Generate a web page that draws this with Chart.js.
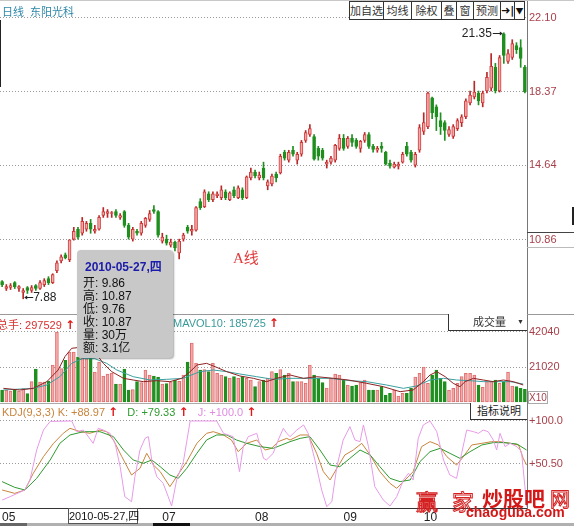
<!DOCTYPE html>
<html><head><meta charset="utf-8">
<script src="https://cdn.jsdelivr.net/npm/chart.js@4/dist/chart.umd.min.js"></script>
<style>
body{margin:0;width:574px;height:526px;overflow:hidden;background:#fff;position:relative;font-family:"Liberation Sans",Arial,"Noto Sans CJK SC",sans-serif}
canvas{position:absolute;left:0}
.a{position:absolute;white-space:nowrap}
.cjk{font-family:"Liberation Sans","Noto Sans CJK SC",sans-serif}
.btn{position:absolute;top:1px;height:17px;border:1px solid #333;background:#fff;font:11px "Noto Sans CJK SC",sans-serif;color:#333;text-align:center;line-height:17px;box-sizing:content-box}
.arr{color:#e01818;font:bold 12px "DejaVu Sans",sans-serif}
.ln{position:absolute}
</style></head><body>
<canvas id="cPrice" width="574" height="314" style="top:0"></canvas>
<canvas id="cVol" width="574" height="89" style="top:314px"></canvas>
<canvas id="cKdj" width="574" height="123" style="top:403px"></canvas>

<!-- separators -->
<div class="ln" style="left:0;top:0;width:574px;height:1px;background:#c8c8c8"></div>
<div class="ln" style="left:0;top:314px;width:574px;height:1px;background:#999"></div>
<div class="ln" style="left:0;top:403px;width:527px;height:1px;background:#aaa"></div>
<div class="ln" style="left:0;top:20px;width:1px;height:67px;background:#222"></div>
<div class="ln" style="left:527px;top:232px;width:47px;height:1px;background:#444"></div>
<div class="ln" style="left:527px;top:247px;width:47px;height:1px;background:#bbb"></div>
<div class="ln" style="left:572px;top:207px;width:2px;height:18px;background:#222"></div>
<div class="ln" style="left:0;top:523px;width:574px;height:3px;background:#b0b0b0"></div>
<div class="ln" style="left:0;top:523px;width:27px;height:3px;background:#666"></div>
<div class="ln" style="left:153px;top:523px;width:37px;height:3px;background:#111"></div>

<!-- header -->
<div class="a cjk" style="left:2px;top:3px;font-size:11px;color:#2e86a8">日线&nbsp;&nbsp;东阳光科</div>
<div class="btn" style="left:349px;width:33px">加自选</div>
<div class="btn" style="left:383px;width:27px">均线</div>
<div class="btn" style="left:411px;width:29px">除权</div>
<div class="btn" style="left:441px;width:14px">叠</div>
<div class="btn" style="left:456px;width:16px">窗</div>
<div class="btn" style="left:473px;width:26px">预测</div>
<div class="btn" style="left:500px;width:13px;font-weight:bold;color:#111;font-family:'DejaVu Sans'">➜|</div>
<div class="btn" style="left:514px;width:9px;font-size:8px;color:#111">▼</div>

<div class="a" style="left:233px;top:246px;font-size:15px;color:#e03c3c"><span style="font-family:'Liberation Serif'">A</span><span style="font-family:'Noto Sans CJK SC'">线</span></div>

<!-- volume header -->
<div class="a cjk" style="left:-3px;top:316px;font-size:11px;color:#d83030">总手: 297529 <span class="arr">↑</span></div>
<div class="a" style="left:173px;top:316px;font-size:11px;color:#3a9a9a">MAVOL10: 185725 <span class="arr">↑</span></div>
<div class="a cjk" style="left:448px;top:314px;width:78px;height:16px;border-left:1px solid #333;border-bottom:1px solid #333;background:#fff;font-size:11px;color:#333;line-height:16px"><span style="position:absolute;left:24px">成交量</span><span style="position:absolute;left:68px;font-size:7px">▼</span></div>
<div class="a" style="left:528px;top:391px;width:18px;height:11px;border:1px solid #aaa;font-size:10px;color:#a8404a;line-height:11px;text-align:center">X10</div>

<!-- KDJ header -->
<div class="a" style="left:2px;top:405px;font-size:11px"><span style="color:#c8843c">KDJ(9,3,3) K: +88.97</span> <span class="arr">↑</span>&nbsp;&nbsp; <span style="color:#2e9a2e">D: +79.33</span> <span class="arr">↑</span>&nbsp;&nbsp; <span style="color:#e08ae0">J: +100.0</span> <span class="arr">↑</span></div>
<div class="a cjk" style="left:470px;top:403px;width:56px;height:16px;border-left:1px solid #333;border-bottom:1px solid #333;background:#fff;font-size:11px;color:#222;line-height:16px;text-align:center">指标说明</div>

<!-- crosshair date on axis -->
<div class="a cjk" style="left:68px;top:508px;width:68px;height:14px;border:1px solid #555;background:#fff;font-size:11px;color:#111;line-height:14px;text-align:center">2010-05-27,四</div>

<!-- tooltip -->
<div class="a" style="left:77px;top:250px;width:96px;height:108px;background:#c8c8c8;border-radius:4px;box-shadow:1px 1px 2px rgba(0,0,0,0.35)"></div>
<div class="a cjk" style="left:85px;top:257px;font-size:12px;font-weight:bold;color:#1c1caa">2010-05-27,四</div>
<div class="a cjk" style="left:83px;top:277px;font-size:12px;line-height:13px;color:#111">开: 9.86<br>高: 10.87<br>低: 9.76<br>收: 10.87<br>量: 30万<br>额: 3.1亿</div>

<!-- watermark -->
<div class="a" style="left:416px;top:484px;font:22px 'Noto Sans CJK SC';color:transparent;-webkit-text-stroke:1px #d42020">赢</div>
<div class="a" style="left:452px;top:484px;font:22px 'Noto Sans CJK SC';color:transparent;-webkit-text-stroke:1px #d42020">家</div>
<div class="a" style="left:482px;top:482px;font:bold 21px 'Noto Sans CJK SC';color:#d41818">炒股吧</div>
<div class="a" style="left:550px;top:484px;font:20px 'Noto Sans CJK SC';color:transparent;-webkit-text-stroke:1px #d42020">网</div>
<div class="a" style="left:466px;top:504px;font:bold 14px 'Liberation Sans';color:#d41818">chaoguba.com</div>

<script>
// ---------------- DATA ----------------
const open  = [8.75,8.4,8.45,8.7,8.4,8.2,8.45,8.3,8.55,8.4,8.6,8.9,8.7,9.3,9.8,10.1,9.86,10.9,11.4,11.2,11.4,11.7,11.3,11.4,12.1,12.2,12.2,12.3,12.0,12.3,11.6,10.9,11.3,11.2,11.6,11.9,12.4,12.3,10.8,10.9,10.6,10.75,10.2,10.9,11.5,11.3,11.35,12.8,12.55,13.2,12.9,13.1,13.0,13.3,12.9,13.4,13.0,13.4,13.0,14.0,14.3,14.0,14.5,13.6,13.7,14.2,14.25,15.3,14.9,15.4,14.9,15.2,15.9,16.2,16.1,15.5,15.4,14.7,14.8,14.9,15.5,16.0,15.6,16.0,15.9,15.5,15.9,16.2,15.6,15.4,15.6,15.3,14.75,14.55,14.6,14.8,15.6,15.3,14.65,15.4,16.35,16.6,18.05,17.6,16.9,16.8,16.2,16.1,16.5,16.8,17.1,17.8,18.1,18.3,17.8,18.4,18.55,19.6,18.4,21.3,19.9,20.1,20.7,20.6,19.6];
const high  = [8.8,8.6,8.65,8.75,8.55,8.4,8.5,8.55,8.6,8.8,8.9,9.0,9.15,9.8,10.1,10.2,10.87,11.5,11.5,12.0,11.8,11.9,11.6,12.1,12.5,12.4,12.3,12.4,12.2,12.35,11.7,11.5,11.4,11.8,12.0,12.35,12.6,12.35,11.2,11.1,10.9,10.8,10.9,11.2,11.6,11.6,12.55,12.95,13.4,13.3,13.3,13.3,13.6,13.4,13.3,13.55,13.6,13.5,14.1,14.5,14.4,14.3,14.8,13.9,14.2,14.3,15.2,15.4,15.4,15.6,15.3,15.9,16.4,16.7,16.2,15.6,15.5,14.9,15.1,15.7,16.2,16.2,16.1,16.2,16.0,15.9,16.3,16.3,15.7,15.6,15.8,15.35,14.9,14.8,14.8,15.3,15.8,15.4,15.3,16.7,17.3,18.35,18.1,17.7,17.3,16.9,16.6,16.7,17.0,17.2,18.0,18.4,18.9,18.4,18.4,19.35,20.3,19.8,20.2,21.35,20.5,21.0,20.85,21.0,19.7];
const low   = [8.5,8.3,8.35,8.4,8.25,7.88,8.15,8.2,8.3,8.35,8.5,8.6,8.65,9.2,9.7,9.9,9.76,10.85,10.9,11.1,11.3,11.2,11.2,11.35,12.0,12.0,12.0,12.0,11.9,11.5,10.9,10.8,11.1,11.1,11.5,11.8,12.2,11.0,10.7,10.6,10.5,10.3,9.9,10.8,11.2,11.1,11.3,12.4,12.5,12.8,12.8,13.0,12.9,12.9,12.85,13.0,12.95,12.9,12.95,13.9,14.0,13.9,13.9,13.4,13.6,13.8,14.2,14.9,14.8,15.1,14.7,15.1,15.8,16.1,14.9,14.9,14.9,14.5,14.7,14.8,15.4,15.4,15.5,15.6,15.5,15.3,15.8,15.5,15.3,15.3,15.3,14.65,14.5,14.5,14.45,14.75,15.1,14.8,14.55,15.3,16.2,16.5,17.0,16.4,16.2,15.9,16.1,16.0,16.4,16.6,17.0,17.7,18.0,17.7,17.6,18.3,18.4,18.3,18.35,19.8,19.8,20.0,20.3,19.6,18.3];
const close = [8.6,8.5,8.55,8.5,8.5,8.3,8.3,8.45,8.4,8.7,8.8,8.7,9.1,9.7,10.0,9.95,10.87,11.3,11.0,11.8,11.7,11.4,11.4,12.0,12.3,12.3,12.25,12.1,12.1,11.6,11.0,11.4,11.2,11.7,11.95,12.2,12.3,11.1,11.0,10.7,10.75,10.45,10.8,11.1,11.3,11.4,12.5,12.5,13.3,12.9,13.2,13.2,13.4,13.0,13.25,13.1,13.5,13.0,14.05,14.3,14.1,14.15,14.0,13.8,14.1,14.0,15.1,15.0,15.3,15.2,15.2,15.8,16.3,16.5,14.95,15.1,15.0,14.8,15.0,15.65,16.0,15.5,16.0,15.8,15.6,15.85,16.2,15.6,15.45,15.5,15.5,14.7,14.6,14.7,14.7,15.2,15.2,14.9,15.2,16.55,16.8,18.3,17.3,17.1,16.6,16.4,16.45,16.6,16.9,17.1,17.9,18.2,18.35,17.9,18.3,19.1,19.65,18.4,20.1,20.2,20.3,20.8,20.5,20.05,18.37];
// volume, in units of 10 hands (axis "X10")
const volume = [7200,7000,6500,7200,6500,8000,5000,12200,19800,12000,12000,12600,22200,42000,20000,25000,30000,30000,27000,33000,26000,28000,18000,24000,15600,16800,17400,10800,10800,19800,7200,7400,12200,11600,19200,16200,15600,15000,10800,11000,12000,13200,12400,16200,24000,35400,23400,19200,19500,18200,23200,17200,16200,15200,14400,15200,14200,15200,14200,13200,9200,12200,13200,14200,18200,17200,19400,16200,17200,12200,12200,12200,11200,22200,16200,14200,11600,8400,14200,16800,16200,13200,10200,9600,10200,11600,13200,7200,7200,7200,9200,4200,5200,7200,3600,5200,5200,8200,15000,17200,21000,11200,16200,19200,14200,12200,7200,8200,11200,15200,17200,17200,16200,10200,8800,12200,12200,13200,11200,12200,18000,9600,9200,8200,7600];
// volume moving averages: [candle index, value]
const mavol5  = [[0.3,8210],[4.2,7210],[7.4,8210],[10.6,12210],[13.3,19220],[14.9,27230],[16.5,32250],[19,33000],[22,30000],[24,23220],[26,18220],[28.8,14210],[31.1,13210],[33.5,12210],[36.7,12810],[39.8,12210],[42.6,14210],[44.6,18220],[46.2,22220],[48.5,23220],[50.9,20820],[53.3,18220],[56.4,15620],[59.6,14210],[62.7,12210],[65.1,14210],[68.3,16220],[71.5,14210],[74.6,15210],[78.6,14210],[82.1,13210],[86.5,11210],[90.4,9210],[94.4,6200],[97.5,7210],[99.9,12210],[101.5,16220],[103.1,18220],[105.1,15210],[107,11210],[108.6,9210],[109.8,12210],[111.8,14210],[114.1,13210],[116.5,12210],[118.9,13210],[121.3,12210],[123.6,10210]];
const mavol10 = [[0.3,7210],[7.4,8210],[10.6,10210],[13.7,15210],[16.5,23220],[19,26000],[22,26000],[24.8,23220],[27.2,19220],[31.1,15210],[35.1,13210],[39,13610],[42.9,14210],[46.9,18220],[50.1,19220],[53.3,18220],[56.4,16820],[60.4,15210],[64.3,13610],[68.3,14210],[73,14210],[77.8,14210],[82.5,12810],[86.5,12210],[91.2,10210],[95.2,8210],[98.3,9610],[101.5,13210],[104.7,14210],[107.8,13210],[111,12810],[114.1,12210],[117.3,12210],[120.5,12210],[123.6,10810]];
// KDJ(9,3,3): [candle index, value]
const kLine = [[0,20.6],[3,16.7],[5.4,20.6],[7.4,39.8],[9.8,58.9],[12.2,74.3],[14.5,85.8],[16.1,91.6],[18.5,87.7],[20.8,85.8],[23.2,89.6],[24.8,87.7],[26.4,78.1],[28.4,58.9],[30.7,37.8],[32.7,45.5],[34.3,62.8],[35.9,49.3],[37.5,41.7],[39.8,24.4],[41.4,35.9],[43.8,53.2],[46.2,74.3],[48.5,85.8],[50.1,87.7],[52.5,83.9],[54.4,78.1],[56,64.7],[58,74.3],[60.4,78.1],[62.4,66.6],[63.9,68.5],[65.5,76.2],[67.5,80],[68.3,78.1],[70.7,83.9],[72.6,83.9],[74.6,62.8],[76.2,41.7],[77.8,32.1],[79.4,45.5],[81.3,60.9],[83.3,66.6],[85.3,74.3],[87.3,60.9],[89.6,41.7],[92,28.2],[93.6,22.5],[95.2,30.2],[97.5,41.7],[99.5,70.5],[101.5,76.2],[103.5,72.4],[105.5,58.9],[107.8,49.3],[109.4,58.9],[111.4,72.4],[113.8,74.3],[116.1,76.2],[118.1,76.2],[120.5,74.3],[122.5,72.4],[123.6,57],[124.4,49.3]];
const dLine = [[0,30.2],[3,23.6],[5.4,20.6],[8.2,34],[11.4,55.1],[13.7,74.3],[16.1,83.9],[19.3,87.7],[23.2,87.7],[26.4,82],[28.8,66.6],[31.1,55.1],[33.5,51.3],[35.5,55.1],[37.5,47.4],[39.8,37.8],[41.8,34],[43.8,45.5],[46.2,62.8],[48.5,78.1],[50.9,83.9],[53.3,83.9],[55.6,78.1],[58,74.3],[61.2,70.5],[64.3,68.5],[68.3,76.2],[70.7,80],[73,82],[75.4,66.6],[77.8,49.3],[80.1,47.4],[82.5,57],[84.9,66.6],[87.3,60.9],[89.6,47.4],[92,34],[94.4,30.2],[96.8,32.1],[99.1,53.2],[101.5,64.7],[103.9,68.5],[106.2,62.8],[108.6,57],[111,64.7],[113.8,72.4],[116.5,75.1],[118.9,75.1],[122.1,73.5],[124.4,66.6]];
const jLine = [[0,9],[1.9,12.9],[5.4,20.6],[6.6,32],[8.2,66.6],[9.8,89.6],[11.4,99.5],[16.5,100],[17.7,87.7],[19.3,89.6],[21.6,74.3],[22.8,91.6],[24,89.6],[25.6,85.8],[26.8,74.3],[28,47.4],[29.1,12.9],[30.7,7.1],[31.5,35.9],[32.7,66.6],[33.9,80],[34.7,82],[35.5,55.1],[36.7,35.9],[38.2,28.2],[39.4,12.9],[40.2,2.1],[41.4,32.1],[43,53.2],[44.6,100],[50.9,100],[52.5,85.8],[54.8,82],[56.3,41.7],[57.2,70.5],[58.4,82],[60.4,85.8],[62,57],[62.7,55.1],[64.3,62.8],[65.5,78.1],[66.7,91.6],[67.5,85.8],[68.3,82],[69.9,89.6],[71.5,95.4],[72.6,85.8],[74.2,55.1],[75.8,20.6],[77,1.4],[78.2,7.1],[79.4,47.4],[80.9,78.1],[82.5,93.5],[83.7,78.1],[84.9,76.2],[85.7,95.4],[86.9,70.5],[88.4,24.4],[90.4,9.1],[92,2.1],[93.6,12.9],[95.2,32.1],[96.4,39.8],[97.5,32.1],[98.7,80],[99.9,95.4],[101.5,100],[103.1,87.7],[104.7,55.1],[106.2,37.8],[107.8,34],[109,62.8],[110.2,89.6],[111.8,87.7],[113,85.8],[114.1,89.6],[115.3,87.7],[116.5,78.1],[117.3,66.6],[118.1,85.8],[119.3,70.5],[120.5,74.3],[122.1,70.5],[123.2,64.7],[124,24.4],[124.4,1.4]];
// axis ticks
const priceTicks = [10.86, 14.64, 18.37, 22.10];
const priceTickLabels = ['10.86', '14.64', '18.37', '22.10'];
const volTicks = [21020, 42040];
const volTickLabels = ['21020', '42040'];
const kdjTicks = [50.5, 100];
const kdjTickLabels = ['+50.50', '+100.0'];
const monthTickIdx = [0, 38, 60, 81, 100];
const monthTickLabels = ['05', '07', '08', '09', '10'];

// ---------------- STYLE ----------------
const N = close.length;
const idx = close.map((_, i) => i);
const isUp = idx.map(i => close[i] >= open[i]);
const UP_FILL = '#f3a9a9', UP_LINE = '#cf3b3b', UP_WICK = '#b82828';
const DN_FILL = '#1f8f1f';
const AXIS_TXT = '#a8404a';
const FONT = {family: 'Liberation Sans', size: 11};
const GRID = {color: '#9a9a9a', drawTicks: false, lineWidth: 1};
const BORDER = {display: true, color: '#777', dash: [1, 2]};

function yAxis(min, max, ticks, labels) {
  return {
    position: 'right', min, max,
    afterBuildTicks: s => { s.ticks = ticks.map(v => ({value: v})); },
    afterFit: s => { s.width = 47; s.paddingTop = 0; s.paddingBottom = 0; },
    grid: GRID, border: BORDER,
    ticks: {color: AXIS_TXT, font: FONT, padding: 2, callback: (v, i) => labels[i]}
  };
}
const xHidden = {type: 'linear', min: -0.5, max: N - 0.5, offset: false, display: false};
const baseOpts = {
  responsive: false, animation: false, events: [],
  layout: {padding: 0},
  plugins: {legend: {display: false}, tooltip: {enabled: false}}
};

// price extremes annotation
const extremes = {
  id: 'extremes',
  afterDatasetsDraw(chart) {
    const {ctx, scales: {x, y}} = chart;
    let hi = 0, lo = 0;
    idx.forEach(i => { if (high[i] > high[hi]) hi = i; if (low[i] < low[lo]) lo = i; });
    ctx.save();
    ctx.font = '12px "Liberation Sans"';
    ctx.fillStyle = '#222'; ctx.strokeStyle = '#222'; ctx.lineWidth = 1;
    ctx.textBaseline = 'middle';
    let px = x.getPixelForValue(hi), py = Math.round(y.getPixelForValue(high[hi])) + 0.5;
    ctx.textAlign = 'right';
    ctx.fillText(high[hi].toFixed(2), px - 12, py);
    ctx.beginPath(); ctx.moveTo(px - 11, py); ctx.lineTo(px - 2, py); ctx.stroke();
    ctx.beginPath(); ctx.moveTo(px - 1, py); ctx.lineTo(px - 4, py - 2); ctx.lineTo(px - 4, py + 2); ctx.closePath(); ctx.fill();
    px = x.getPixelForValue(lo); py = Math.round(y.getPixelForValue(low[lo])) - 1.5;
    ctx.textAlign = 'left';
    ctx.fillText(low[lo].toFixed(2), px + 10, py);
    ctx.beginPath(); ctx.moveTo(px + 2, py); ctx.lineTo(px + 10, py); ctx.stroke();
    ctx.beginPath(); ctx.moveTo(px + 1, py); ctx.lineTo(px + 4, py - 2); ctx.lineTo(px + 4, py + 2); ctx.closePath(); ctx.fill();
    ctx.restore();
  }
};

// ---------------- PRICE ----------------
new Chart(document.getElementById('cPrice'), {
  type: 'bar',
  data: {datasets: [
    {data: idx.map(i => ({x: i, y: [low[i], high[i]]})), backgroundColor: idx.map(i => isUp[i] ? UP_WICK : DN_FILL),
     barThickness: 1, grouped: false, order: 2},
    {data: idx.map(i => ({x: i, y: [open[i], close[i]]})), backgroundColor: idx.map(i => isUp[i] ? UP_FILL : DN_FILL),
     borderColor: idx.map(i => isUp[i] ? UP_LINE : DN_FILL), borderWidth: 1, borderSkipped: false,
     barThickness: 3, grouped: false, order: 1}
  ]},
  options: Object.assign({}, baseOpts, {
    scales: {x: xHidden, y: yAxis(7.11, 23.01, priceTicks, priceTickLabels)}
  }),
  plugins: [extremes]
});

// ---------------- VOLUME ----------------
new Chart(document.getElementById('cVol'), {
  type: 'bar',
  data: {datasets: [
    {type: 'line', data: mavol5.map(p => ({x: p[0], y: p[1]})), borderColor: '#8e2323', borderWidth: 1, pointRadius: 0, tension: 0, order: 0},
    {type: 'line', data: mavol10.map(p => ({x: p[0], y: p[1]})), borderColor: '#3aa0a0', borderWidth: 1, pointRadius: 0, tension: 0, order: 0},
    {type: 'bar', data: idx.map(i => ({x: i, y: volume[i]})), backgroundColor: idx.map(i => isUp[i] ? UP_FILL : DN_FILL),
     borderColor: idx.map(i => isUp[i] ? '#e07070' : DN_FILL), borderWidth: 1, borderSkipped: false, barThickness: 3, order: 1}
  ]},
  options: Object.assign({}, baseOpts, {
    scales: {x: xHidden, y: yAxis(-600, 52850, volTicks, volTickLabels)}
  })
});

// ---------------- KDJ ----------------
new Chart(document.getElementById('cKdj'), {
  type: 'line',
  data: {datasets: [
    {data: jLine.map(p => ({x: p[0], y: p[1]})), borderColor: '#e89ae8', borderWidth: 1, pointRadius: 0, tension: 0},
    {data: dLine.map(p => ({x: p[0], y: p[1]})), borderColor: '#2e9a2e', borderWidth: 1, pointRadius: 0, tension: 0},
    {data: kLine.map(p => ({x: p[0], y: p[1]})), borderColor: '#c8843c', borderWidth: 1, pointRadius: 0, tension: 0}
  ]},
  options: Object.assign({}, baseOpts, {
    scales: {
      x: {type: 'linear', min: -0.5, max: N - 0.5, offset: false, position: 'bottom',
          afterBuildTicks: s => { s.ticks = monthTickIdx.map(v => ({value: v})); },
          afterFit: s => { s.height = 18; s.paddingLeft = 0; s.paddingRight = 0; },
          grid: {display: false, drawTicks: false}, border: {display: true, color: '#333'},
          ticks: {color: '#222', font: {family: 'Liberation Sans', size: 12}, padding: 2, align: 'start',
                  maxRotation: 0, autoSkip: false, callback: (v, i) => monthTickLabels[i]}},
      y: yAxis(-0.15, 120.7, kdjTicks, kdjTickLabels)
    }
  })
});
</script>
</body></html>
